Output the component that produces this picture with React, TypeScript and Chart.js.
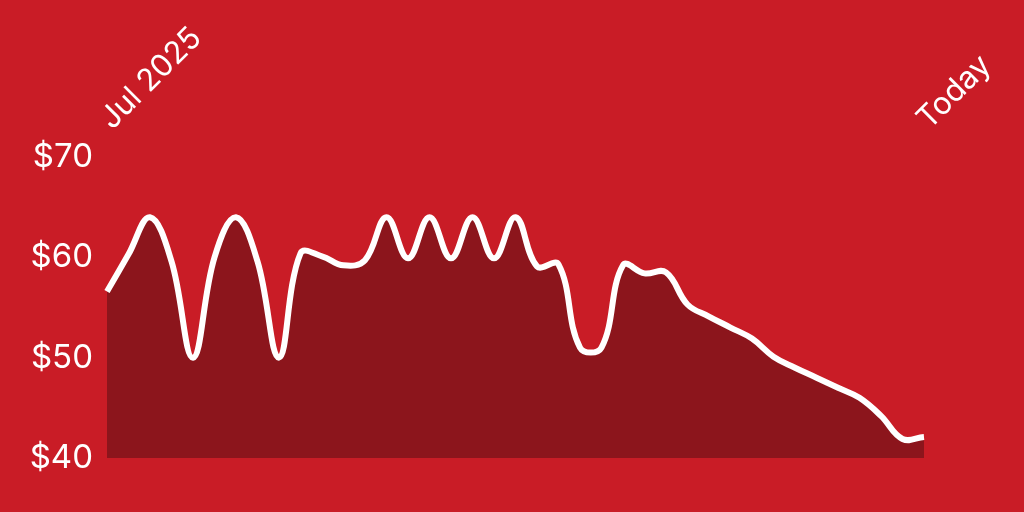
import { useEffect, useRef } from "react";
import { Chart, registerables } from "chart.js";

Chart.register(...registerables);

const BG = "#C91C26";
const FILL = "#8C151C";
const FONT = "Inter, 'Liberation Sans', Arial, sans-serif";

// weekly observations, Jul 2025 -> today
const categories = [
  "W01", "W02", "W03", "W04", "W05", "W06", "W07", "W08", "W09", "W10",
  "W11", "W12", "W13", "W14", "W15", "W16", "W17", "W18", "W19", "W20",
  "W21", "W22", "W23", "W24", "W25", "W26", "W27", "W28", "W29", "W30",
  "W31", "W32", "W33", "W34", "W35", "W36", "W37", "W38", "W39",
];

const prices = [
  56.6, 60.3, 64.0, 59.6, 50.0, 60.0, 64.0, 59.6, 50.0, 60.4,
  60.1, 59.2, 59.7, 64.0, 59.9, 64.0, 59.9, 64.0, 59.9, 64.0,
  59.1, 59.3, 51.0, 51.0, 59.2, 58.4, 58.5, 55.3, 54.1, 53.0,
  51.9, 50.1, 49.0, 48.0, 47.0, 46.0, 44.2, 41.9, 42.1,
];

const xTickLabels = ["Jul 2025", "Today"];
const yTickValues = [40, 50, 60, 70];

export default function App() {
  const ref = useRef<HTMLCanvasElement>(null);

  useEffect(() => {
    document.body.style.margin = "0";
    document.body.style.background = BG;
    const canvas = ref.current!;
    const chart = new Chart(canvas, {
      type: "line",
      data: {
        labels: categories,
        datasets: [
          {
            data: prices,
            borderColor: "#FFFFFF",
            borderWidth: 6,
            backgroundColor: FILL,
            fill: "start",
            tension: 0.4,
            pointRadius: 0,
            pointHoverRadius: 0,
          },
        ],
      },
      options: {
        animation: false,
        responsive: false,
        devicePixelRatio: 1,
        layout: { padding: { left: 0, right: 100, top: 0, bottom: 54 } },
        plugins: { legend: { display: false }, tooltip: { enabled: false } },
        scales: {
          x: {
            position: "top",
            grid: { display: false, drawTicks: false },
            border: { display: false },
            afterFit: (s: any) => {
              s.height = 157;
            },
            ticks: {
              autoSkip: false,
              maxRotation: 45,
              minRotation: 45,
              padding: 20,
              labelOffset: 25,
              color: "#FFFFFF",
              font: { family: FONT, size: 31 },
              callback: (_v: any, i: number) =>
                i === 0 ? xTickLabels[0] : i === categories.length - 1 ? xTickLabels[1] : "",
            },
          },
          y: {
            min: yTickValues[0],
            max: yTickValues[yTickValues.length - 1],
            afterBuildTicks: (s: any) => {
              s.ticks = yTickValues.map((v) => ({ value: v }));
            },
            afterFit: (s: any) => {
              s.width = 107;
            },
            grid: { display: false, drawTicks: false },
            border: { display: false },
            ticks: {
              padding: 14,
              color: "#FFFFFF",
              font: { family: FONT, size: 33 },
              callback: (v: any) => "$" + v,
            },
          },
        },
      },
    });
    return () => chart.destroy();
  }, []);

  return (
    <div style={{ width: 1024, height: 512, background: BG }}>
      <canvas ref={ref} width={1024} height={512} style={{ display: "block", width: 1024, height: 512 }} />
    </div>
  );
}
